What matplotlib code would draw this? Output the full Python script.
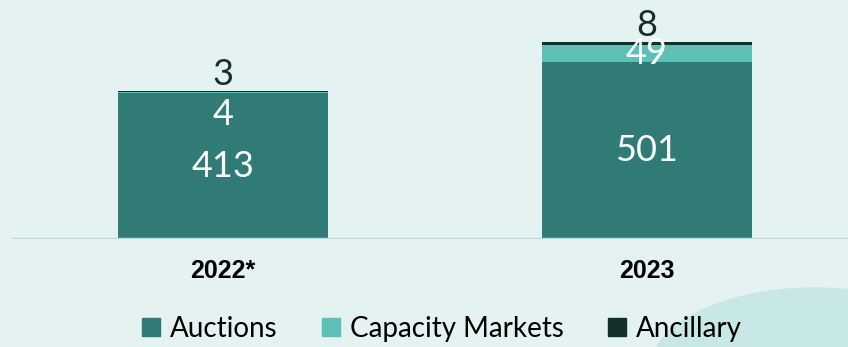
import numpy as np
import matplotlib.pyplot as plt
from matplotlib.patches import Ellipse
from matplotlib.lines import Line2D

# data
years = ['2022*', '2023']
auctions = np.array([413, 501])
capacity = np.array([4, 49])
ancillary = np.array([3, 8])

series_names = ['Auctions', 'Capacity Markets', 'Ancillary']
colors = ['#317b76', '#5dbfb5', '#13302b']
bg = '#e4f2f1'

fig = plt.figure(figsize=(8.48, 3.47), dpi=100, facecolor=bg)

# decorative blob bottom right
fig.patches.append(Ellipse((815/848, 1-370/347), 330/848, 164/347,
                           transform=fig.transFigure, color='#c8e8e5', zorder=0))

ax = fig.add_axes([12/848, 108/347, 836/848, 239/347])
ax.set_facecolor('none')

x = np.arange(len(years))
w = 0.495
ax.bar(x, auctions, w, color=colors[0], zorder=2)
ax.bar(x, capacity, w, bottom=auctions, color=colors[1], zorder=2)
ax.bar(x, ancillary, w, bottom=auctions+capacity, color=colors[2], zorder=2)

ax.set_xlim(-0.4976, 1.474)
ax.set_ylim(0, 677)
ax.axhline(0, color='#b3ddd8', lw=2.5, zorder=3)
for s in ax.spines.values():
    s.set_visible(False)
ax.set_yticks([])
ax.set_xticks([])

fam = ['Lato', 'DejaVu Sans']
lab = dict(fontsize=26, family=fam, fontweight='normal', ha='center')
tops = auctions + capacity + ancillary
for i in range(len(years)):
    # auctions, centred
    ax.text(x[i], auctions[i]/2, str(auctions[i]), color='white', va='center', **lab)
    # capacity markets
    if capacity[i] >= 30:
        ax.text(x[i], auctions[i] + capacity[i]/2, str(capacity[i]), color='white', va='center', **lab)
    else:
        ax.annotate(str(capacity[i]), (x[i], auctions[i]), textcoords='offset points',
                    xytext=(0, -15), color='white', va='center', **lab)
    # ancillary above the bar
    ax.annotate(str(ancillary[i]), (x[i], tops[i]), textcoords='offset points',
                xytext=(0, 4), color='#13302b', va='baseline', **lab)
    ax.annotate(years[i], (x[i], 0), textcoords='offset points', xytext=(0, -23),
                ha='center', va='center', fontsize=18, fontweight='bold',
                family=['Liberation Sans', 'DejaVu Sans'], color='black')

handles = [Line2D([], [], ls='none', marker='s', markersize=12.5, color=c) for c in colors]
fig.legend(handles, series_names, loc='center', bbox_to_anchor=(0.52, 1-329/347),
           ncol=3, frameon=False, handlelength=0.8, handletextpad=0.3, columnspacing=1.5,
           prop={'family': fam, 'size': 20})

plt.savefig('out.png', dpi=100, facecolor=bg)
